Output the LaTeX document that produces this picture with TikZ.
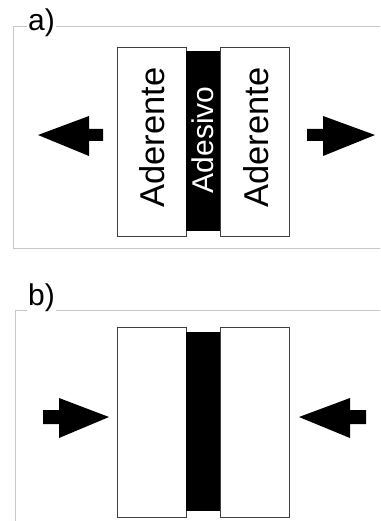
\documentclass[tikz,border=0pt]{standalone}
\usepackage{fontspec}
\setmainfont{Liberation Sans}
\begin{document}
\begin{tikzpicture}[x=1pt,y=-1pt,
  frame/.style={draw=black!22, line width=0.8pt},
  aderente/.style={draw=black!75, fill=white, line width=0.8pt, minimum width=69pt, minimum height=189pt, inner sep=0pt, anchor=north west},
  adesivo/.style={fill=black, minimum width=34pt, inner sep=0pt, anchor=north west},
  vtext/.style={rotate=90, font=\fontsize{34.5}{34.5}\selectfont, inner sep=0pt},
  lbl/.style={font=\fontsize{30}{30}\selectfont, fill=white, inner sep=1pt, anchor=base west},
  bigarrow/.style={fill=black}]
\useasboundingbox (0,0) rectangle (380,521);
% panel a
\draw[frame] (380,26) -- (13,26) -- (13,248) -- (380,248);
\node[lbl] (la) at (27,31) {a)};
\node[aderente] (a1) at (117,47) {};
\node[adesivo, minimum height=180pt] (a2) at (186,51) {};
\node[aderente] (a3) at (220,47) {};
\node[vtext] (t1) at (152,137.5) {Aderente};
\node[vtext, text=white, font=\fontsize{30}{30}\selectfont] (t2) at (203,140) {Adesivo};
\node[vtext] (t3) at (256,137.5) {Aderente};
\fill[bigarrow] (38,135) -- (89,116) -- (89,129) -- (103,129) -- (103,141) -- (89,141) -- (89,156) -- cycle;
\fill[bigarrow] (375,135) -- (323,116) -- (323,129) -- (307,129) -- (307,141) -- (323,141) -- (323,156) -- cycle;
% panel b
\draw[frame] (380,310) -- (15,310) -- (15,521);
\node[lbl] (lb) at (27,305) {b)};
\node[aderente, minimum height=190pt] (b1) at (117,327) {};
\node[adesivo, minimum height=179pt] (b2) at (186,332) {};
\node[aderente, minimum height=190pt] (b3) at (220,327) {};
\fill[bigarrow] (109,417) -- (59,398) -- (59,410) -- (43,410) -- (43,424) -- (59,424) -- (59,438) -- cycle;
\fill[bigarrow] (299,417) -- (350,398) -- (350,410) -- (366,410) -- (366,424) -- (350,424) -- (350,438) -- cycle;
\end{tikzpicture}
\end{document}
